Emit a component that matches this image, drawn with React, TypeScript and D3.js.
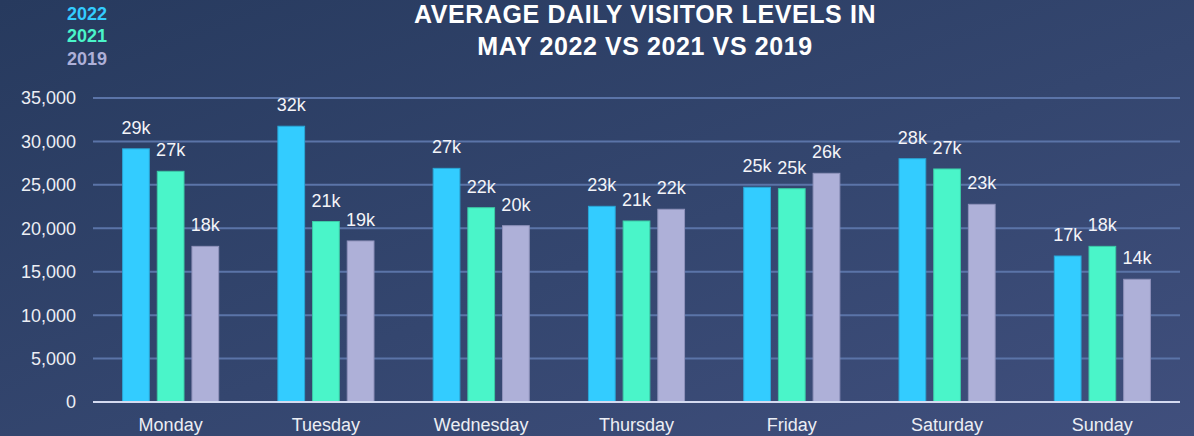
import React, { useRef, useEffect } from 'react';
import * as d3 from 'd3';

// Chart data
const days = ['Monday', 'Tuesday', 'Wednesday', 'Thursday', 'Friday', 'Saturday', 'Sunday'];
const seriesNames = ['2022', '2021', '2019'];
const visitors2022 = [29150, 31750, 26900, 22530, 24720, 28010, 16810];
const visitors2021 = [26560, 20780, 22370, 20840, 24560, 26830, 17920];
const visitors2019 = [17920, 18540, 20300, 22190, 26330, 22760, 14130];
const barLabels2022 = ['29k', '32k', '27k', '23k', '25k', '28k', '17k'];
const barLabels2021 = ['27k', '21k', '22k', '21k', '25k', '27k', '18k'];
const barLabels2019 = ['18k', '19k', '20k', '22k', '26k', '23k', '14k'];
const yTicks = [0, 5000, 10000, 15000, 20000, 25000, 30000, 35000];
const titleLines = ['AVERAGE DAILY VISITOR LEVELS IN', 'MAY 2022 VS 2021 VS 2019'];

const colors = ['#33ccff', '#4af5c9', '#aeb0d8'];
const strokes = ['#2aa6d6', '#3ccaa6', '#8f92bb'];

const BarChart = () => {
    const svgRef = useRef<SVGSVGElement>(null);
    const svg_width = 1194;
    const svg_height = 436;
    const margin = { top: 98, right: 14, bottom: 34, left: 93 };
    const width = svg_width - margin.left - margin.right;
    const height = svg_height - margin.top - margin.bottom;

    useEffect(() => {
        document.body.style.margin = '0';
        const svg = d3.select(svgRef.current);
        svg.selectAll('*').remove();

        // Background gradient
        const defs = svg.append('defs');
        const grad = defs.append('linearGradient')
            .attr('id', 'bg')
            .attr('x1', '0%').attr('y1', '0%')
            .attr('x2', '100%').attr('y2', '100%');
        grad.append('stop').attr('offset', '0%').attr('stop-color', '#273a5e');
        grad.append('stop').attr('offset', '55%').attr('stop-color', '#34466f');
        grad.append('stop').attr('offset', '100%').attr('stop-color', '#404f7d');
        svg.append('rect')
            .attr('width', svg_width).attr('height', svg_height)
            .attr('fill', 'url(#bg)');

        const data = days.map((d, i) => ({
            day: d,
            values: [visitors2022[i], visitors2021[i], visitors2019[i]],
            labels: [barLabels2022[i], barLabels2021[i], barLabels2019[i]],
        }));

        // Scales
        const x0 = d3.scaleBand()
            .domain(days)
            .range([0, width])
            .paddingInner(0.33)
            .paddingOuter(0.165);
        const x1 = d3.scaleBand()
            .domain(seriesNames)
            .range([0, x0.bandwidth()])
            .paddingInner(0.2)
            .paddingOuter(0.1);
        const y = d3.scaleLinear()
            .domain([0, 35000])
            .range([height, 0]);

        const focus = svg.append('g')
            .attr('transform', 'translate(' + margin.left + ',' + margin.top + ')');

        // Gridlines
        focus.selectAll('.grid')
            .data(yTicks.filter(t => t > 0))
            .enter()
            .append('line')
            .attr('x1', 0).attr('x2', width)
            .attr('y1', d => y(d)).attr('y2', d => y(d))
            .attr('stroke', '#5b74a8')
            .attr('stroke-width', 2);

        // Y axis labels
        const fmt = d3.format(',');
        focus.selectAll('.ylab')
            .data(yTicks)
            .enter()
            .append('text')
            .attr('x', -17)
            .attr('y', d => y(d))
            .attr('dy', '0.36em')
            .attr('text-anchor', 'end')
            .attr('fill', '#eceef4')
            .style('font-size', '18px')
            .text(d => fmt(d));

        // Bars
        const groups = focus.selectAll('.day')
            .data(data)
            .enter()
            .append('g')
            .attr('transform', d => 'translate(' + x0(d.day) + ',0)');

        groups.selectAll('rect')
            .data(d => d.values.map((v, i) => ({ key: seriesNames[i], v, i })))
            .enter()
            .append('rect')
            .attr('x', d => x1(d.key)! + 0.5)
            .attr('y', d => y(d.v))
            .attr('width', x1.bandwidth() - 1)
            .attr('height', d => height - y(d.v))
            .attr('fill', d => colors[d.i])
            .attr('stroke', d => strokes[d.i])
            .attr('stroke-width', 1);

        groups.selectAll('.val')
            .data(d => d.values.map((v, i) => ({ key: seriesNames[i], v, label: d.labels[i] })))
            .enter()
            .append('text')
            .attr('x', d => x1(d.key)! + x1.bandwidth() / 2)
            .attr('y', d => y(d.v) - 15)
            .attr('text-anchor', 'middle')
            .attr('fill', '#f4f4f8')
            .style('font-size', '18px')
            .text(d => d.label);

        // X axis line
        focus.append('line')
            .attr('x1', 0).attr('x2', width)
            .attr('y1', height).attr('y2', height)
            .attr('stroke', '#d4daf0')
            .attr('stroke-width', 2);

        // X axis labels
        focus.selectAll('.xlab')
            .data(days)
            .enter()
            .append('text')
            .attr('x', d => x0(d)! + x0.bandwidth() / 2)
            .attr('y', height + 29)
            .attr('text-anchor', 'middle')
            .attr('fill', '#eceef4')
            .style('font-size', '18px')
            .text(d => d);

        // Legend
        seriesNames.forEach((s, i) => {
            svg.append('text')
                .attr('x', 67)
                .attr('y', 20 + i * 22.3)
                .attr('fill', colors[i])
                .style('font-size', '18px')
                .style('font-weight', 'bold')
                .text(s);
        });

        // Title
        titleLines.forEach((t, i) => {
            svg.append('text')
                .attr('x', 645)
                .attr('y', 23 + i * 32)
                .attr('text-anchor', 'middle')
                .attr('fill', '#ffffff')
                .style('font-size', '25px')
                .style('letter-spacing', '0.6px')
                .style('font-weight', 'bold')
                .text(t);
        });
    // eslint-disable-next-line
    }, []);

    return (
        <svg
            ref={svgRef}
            width={svg_width}
            height={svg_height}
            style={{ display: 'block', fontFamily: '"Liberation Sans", Arial, sans-serif' }}
        />
    );
};

export default function App() {
    return <BarChart />;
}
